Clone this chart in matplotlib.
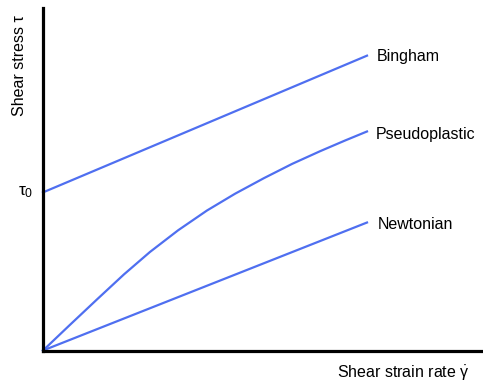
import matplotlib.pyplot as plt

plt.rcParams['font.family'] = ['Liberation Sans', 'DejaVu Sans']
plt.rcParams['mathtext.fontset'] = 'custom'
plt.rcParams['mathtext.rm'] = 'Liberation Sans'
plt.rcParams['mathtext.it'] = 'Liberation Sans'

# shear rate / shear stress, arbitrary units
rate = [0, 10]
bingham = [4.88, 9.10]
newtonian = [0, 3.95]
pseudo_rate = [0, 0.83, 1.67, 2.50, 3.30, 4.17, 5.06, 5.93, 6.82, 7.69, 8.55, 9.32, 10.0]
pseudo_stress = [0, 0.79, 1.58, 2.35, 3.04, 3.71, 4.32, 4.84, 5.32, 5.76, 6.15, 6.48, 6.76]

blue = '#4f6ff0'

fig = plt.figure(figsize=(4.83, 3.83), dpi=100)
ax = fig.add_axes([43 / 483, 32.5 / 383, 440 / 483, 343 / 383])
ax.set_xlim(0, 440 / 32.4)
ax.set_ylim(0, 343 / 32.4)

ax.plot(rate, bingham, color=blue, lw=1.6, clip_on=False)
ax.plot(pseudo_rate, pseudo_stress, color=blue, lw=1.6, clip_on=False,
        solid_joinstyle='round')
ax.plot(rate, newtonian, color=blue, lw=1.6, clip_on=False)

ax.text(rate[-1] + 0.3, bingham[-1] - 0.03, 'Bingham', fontsize=11.5, va='center')
ax.text(pseudo_rate[-1] + 0.27, pseudo_stress[-1] - 0.08, 'Pseudoplastic', fontsize=11.5, va='center')
ax.text(rate[-1] + 0.33, newtonian[-1] - 0.05, 'Newtonian', fontsize=11.5, va='center')

ax.text(-0.3, bingham[0], r'$\tau_0$', fontsize=12.5, ha='right', va='center')

for s in ['top', 'right']:
    ax.spines[s].set_visible(False)
for s in ['left', 'bottom']:
    ax.spines[s].set_linewidth(2.3)
    ax.spines[s].set_color('black')
ax.set_xticks([])
ax.set_yticks([])

fig.text(20 / 483, 1 - 15 / 383, 'Shear stress τ', rotation=90, fontsize=11.5,
         ha='center', va='top')
fig.text(470 / 483, 1 - 373 / 383, r'Shear strain rate $\dot{\gamma}$', fontsize=11.5,
         ha='right', va='center')

fig.savefig('out.png', dpi=100)
